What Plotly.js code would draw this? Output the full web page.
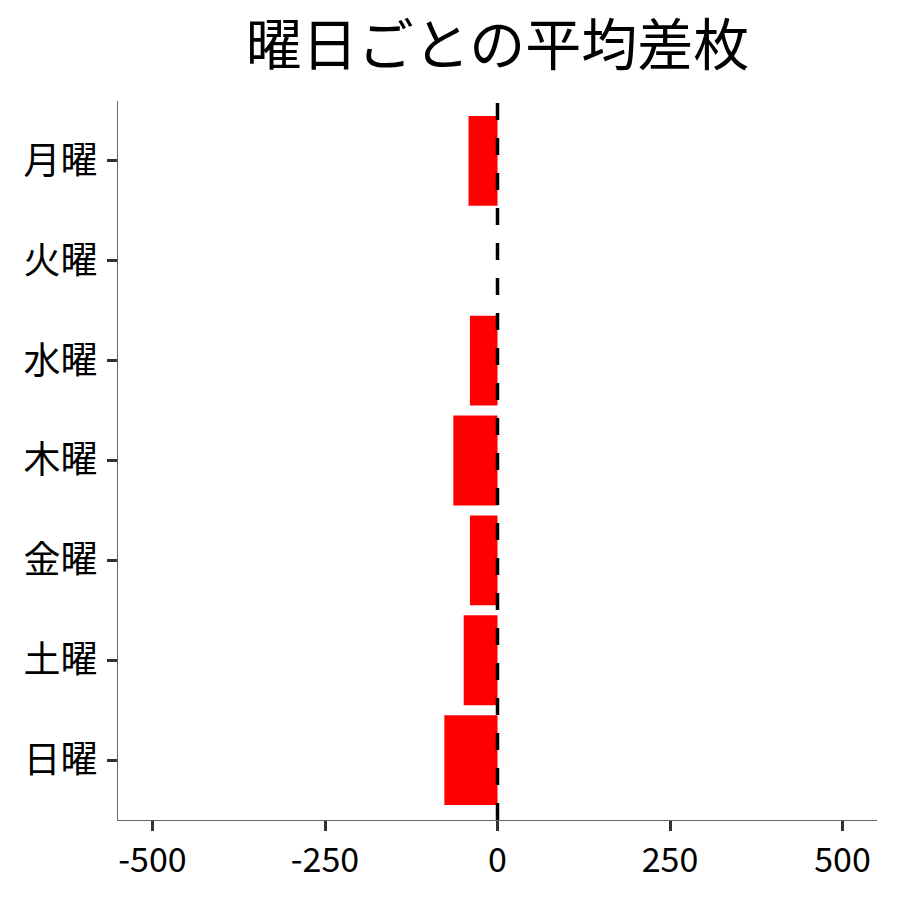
<!DOCTYPE html>
<html>
<head>
<meta charset="utf-8">
<script src="https://cdn.plot.ly/plotly-3.0.1.min.js"></script>
<style>
  html, body { margin: 0; padding: 0; background: #fff; }
  #chart { width: 900px; height: 900px; }
</style>
</head>
<body>
<div id="chart"></div>
<script>
// 曜日ごとの平均差枚
var days = ['月曜', '火曜', '水曜', '木曜', '金曜', '土曜', '日曜'];
var avgDiff = [-42, 0, -40, -64, -40, -49, -77];
var xTicks = [-500, -250, 0, 250, 500];
var xTickText = ['-500', '-250', '0', '250', '500'];

var fontFamily = '"Noto Sans CJK JP", "Noto Sans", sans-serif';

var trace = {
    x: avgDiff,
    y: days,
    type: 'bar',
    orientation: 'h',
    width: 0.9,
    marker: {
        color: '#ff0000',
        line: { width: 0 }
    },
    hoverinfo: 'x+y'
};

var layout = {
    width: 900,
    height: 900,
    plot_bgcolor: '#ffffff',
    paper_bgcolor: '#ffffff',
    font: { family: fontFamily, color: '#000' },
    title: {
        text: '曜日ごとの平均差枚',
        font: { family: fontFamily, size: 56, color: '#000' },
        x: 0.5,
        xref: 'paper',
        xanchor: 'center',
        y: 0.95,
        yref: 'container',
        yanchor: 'middle'
    },
    xaxis: {
        range: [-550, 550],
        tickvals: xTicks,
        ticktext: xTickText,
        ticks: 'outside',
        ticklen: 10,
        tickwidth: 3,
        tickcolor: '#333',
        showline: true,
        linecolor: '#666',
        linewidth: 1,
        showgrid: false,
        zeroline: false,
        tickfont: { family: fontFamily, size: 34, color: '#000' }
    },
    yaxis: {
        type: 'category',
        categoryorder: 'array',
        categoryarray: days,
        range: [6.6, -0.6],
        ticks: 'outside',
        ticklen: 10,
        tickwidth: 3,
        tickcolor: '#333',
        ticklabelstandoff: 2,
        showline: true,
        linecolor: '#666',
        linewidth: 1,
        showgrid: false,
        zeroline: false,
        tickfont: { family: fontFamily, size: 37, color: '#000' }
    },
    shapes: [{
        type: 'line',
        xref: 'x',
        yref: 'paper',
        x0: 0, x1: 0,
        y0: 0, y1: 1,
        line: { color: '#000', width: 3.5, dash: '17px,18px' },
        layer: 'above'
    }],
    margin: { l: 118, r: 23, t: 101, b: 80 },
    showlegend: false
};

Plotly.newPlot('chart', [trace], layout, { displayModeBar: false, staticPlot: true });
</script>
</body>
</html>
